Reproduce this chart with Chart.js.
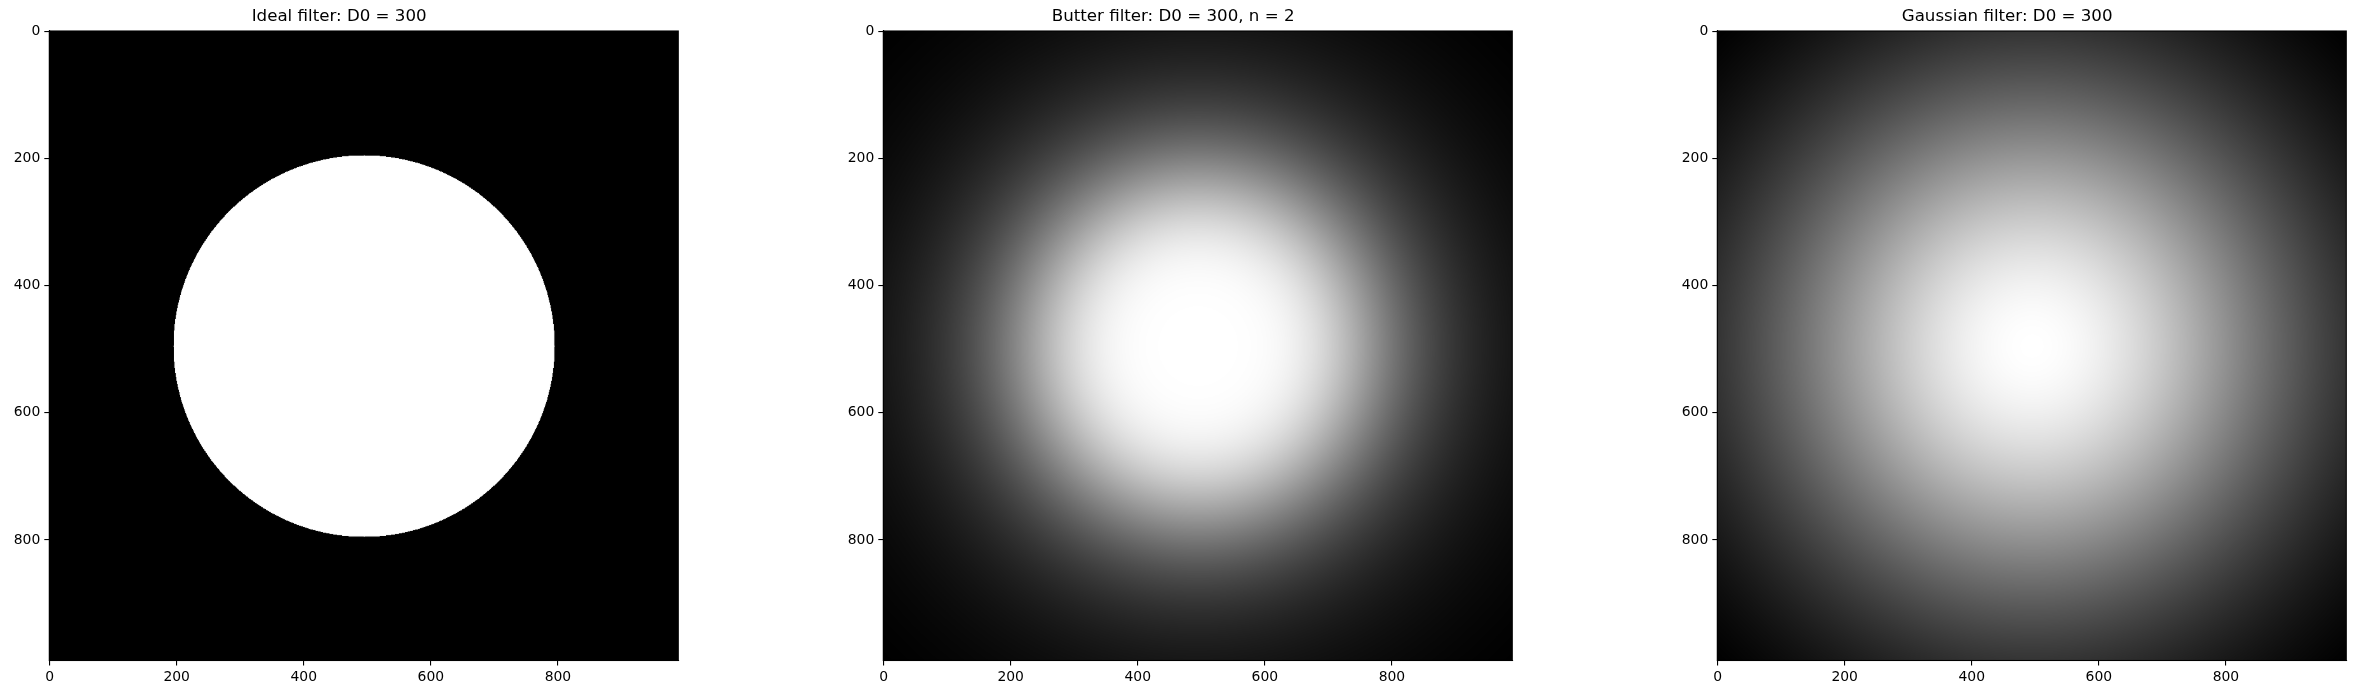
<!DOCTYPE html>
<html>
<head>
<meta charset="utf-8">
<script src="https://cdn.jsdelivr.net/npm/chart.js@4.4.1/dist/chart.umd.min.js"></script>
<style>
  html, body { margin: 0; padding: 0; background: #ffffff; }
  #wrap { position: relative; width: 2354px; height: 697px; overflow: hidden; background: #ffffff; }
  canvas { position: absolute; top: 0; }
</style>
</head>
<body>
<div id="wrap">
  <canvas id="c0" width="686" height="697" style="left:0px"></canvas>
  <canvas id="c1" width="686" height="697" style="left:834px"></canvas>
  <canvas id="c2" width="686" height="697" style="left:1668px"></canvas>
</div>
<script>
// ---- data ----
const panelTitles = ['Ideal filter: D0 = 300', 'Butter filter: D0 = 300, n = 2', 'Gaussian filter: D0 = 300'];
const filterKinds = ['ideal', 'butterworth', 'gaussian'];
const cutoffD0 = [300, 300, 300];
const butterOrder = [0, 2, 0];
const imageRows = 990;
const imageCols = 990;
const centerRow = 495;
const centerCol = 495;
const xTickValues = [0, 200, 400, 600, 800];
const yTickValues = [0, 200, 400, 600, 800];

// filter response H(u,v) for one panel
function filterValue(kind, d0, n, d) {
  if (kind === 'ideal') return d <= d0 ? 1 : 0;
  if (kind === 'butterworth') return 1 / (1 + Math.pow(d / d0, 2 * n));
  return Math.exp(-(d * d) / (2 * d0 * d0));
}

function buildImage(idx) {
  const kind = filterKinds[idx], d0 = cutoffD0[idx], n = butterOrder[idx];
  const vals = new Float32Array(imageRows * imageCols);
  let mn = Infinity, mx = -Infinity;
  for (let r = 0; r < imageRows; r++) {
    for (let c = 0; c < imageCols; c++) {
      const d = Math.hypot(r - centerRow, c - centerCol);
      const v = filterValue(kind, d0, n, d);
      vals[r * imageCols + c] = v;
      if (v < mn) mn = v;
      if (v > mx) mx = v;
    }
  }
  const off = document.createElement('canvas');
  off.width = imageCols; off.height = imageRows;
  const octx = off.getContext('2d');
  const img = octx.createImageData(imageCols, imageRows);
  const span = (mx - mn) || 1;
  for (let i = 0; i < vals.length; i++) {
    const g = Math.round(255 * (vals[i] - mn) / span);
    img.data[4 * i] = g; img.data[4 * i + 1] = g; img.data[4 * i + 2] = g; img.data[4 * i + 3] = 255;
  }
  octx.putImageData(img, 0, 0);
  return off;
}

const imagePlugin = {
  id: 'filterImage',
  afterDatasetsDraw(chart) {
    const idx = chart.options.plugins.filterImage.panel;
    if (!chart.$img) chart.$img = buildImage(idx);
    const xs = chart.scales.x, ys = chart.scales.y;
    const x0 = xs.getPixelForValue(-0.5), x1 = xs.getPixelForValue(imageCols - 0.5);
    const y0 = ys.getPixelForValue(-0.5), y1 = ys.getPixelForValue(imageRows - 0.5);
    const ctx = chart.ctx;
    ctx.save();
    ctx.imageSmoothingEnabled = true;
    ctx.imageSmoothingQuality = 'high';
    ctx.drawImage(chart.$img, Math.min(x0, x1), Math.min(y0, y1), Math.abs(x1 - x0), Math.abs(y1 - y0));
    // axes frame (spines)
    const a = chart.chartArea;
    ctx.strokeStyle = '#000000';
    ctx.lineWidth = 1.1;
    ctx.strokeRect(a.left, a.top, a.right - a.left, a.bottom - a.top);
    ctx.restore();
  }
};

const tickFont = { family: 'DejaVu Sans', size: 13.9 };

function makeChart(idx) {
  const ctx = document.getElementById('c' + idx).getContext('2d');
  return new Chart(ctx, {
    type: 'scatter',
    data: { datasets: [{ label: panelTitles[idx], data: [] }] },
    options: {
      responsive: false,
      animation: false,
      devicePixelRatio: 1,
      layout: { padding: { left: 0, right: 7.7, top: 0, bottom: 0 } },
      plugins: {
        legend: { display: false },
        tooltip: { enabled: false },
        title: {
          display: true,
          text: panelTitles[idx],
          color: '#000000',
          font: { family: 'DejaVu Sans', size: 16.67, weight: 'normal', lineHeight: 1.2 },
          padding: { top: 7, bottom: 4 }
        },
        filterImage: { panel: idx }
      },
      scales: {
        x: {
          type: 'linear',
          position: 'bottom',
          min: -0.5,
          max: imageCols - 0.5,
          afterBuildTicks: (s) => { s.ticks = xTickValues.map(v => ({ value: v })); },
          afterFit: (s) => { s.height = 36.5; },
          ticks: { color: '#000000', font: tickFont, padding: 4, maxRotation: 0, autoSkip: false },
          grid: { display: true, drawOnChartArea: false, drawTicks: true, tickLength: 5, color: '#000000', lineWidth: 1.1 },
          border: { display: true, color: '#000000', width: 1.1 }
        },
        y: {
          type: 'linear',
          position: 'left',
          reverse: true,
          min: -0.5,
          max: imageRows - 0.5,
          afterBuildTicks: (s) => { s.ticks = yTickValues.map(v => ({ value: v })); },
          afterFit: (s) => { s.width = 49.3; },
          ticks: { color: '#000000', font: tickFont, padding: 4, autoSkip: false },
          grid: { display: true, drawOnChartArea: false, drawTicks: true, tickLength: 5, color: '#000000', lineWidth: 1.1 },
          border: { display: true, color: '#000000', width: 1.1 }
        }
      }
    },
    plugins: [imagePlugin]
  });
}

[0, 1, 2].forEach(makeChart);
</script>
</body>
</html>
